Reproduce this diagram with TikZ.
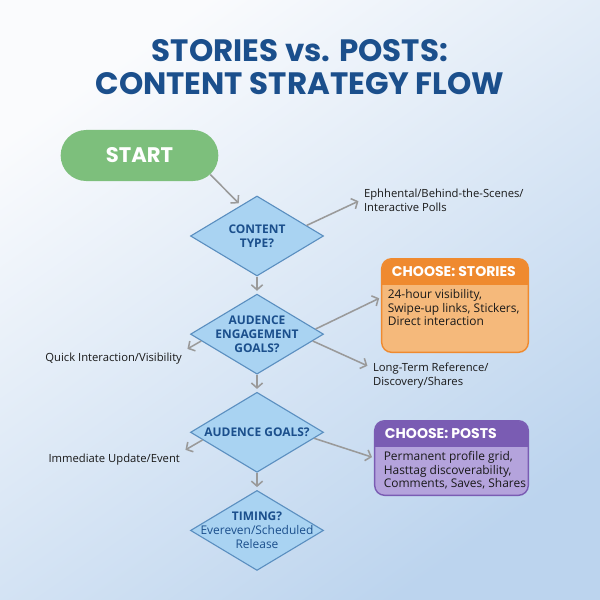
\documentclass[tikz,border=0pt]{standalone}
\usepackage{fontspec}
\setmainfont{Open Sans}
\newfontfamily\headfont{Poppins}
\usetikzlibrary{shapes.geometric, shapes.misc, positioning, arrows.meta, calc}

\definecolor{titleblue}{HTML}{1B4F8C}
\definecolor{startgreen}{HTML}{7DBF7C}
\definecolor{dfill}{HTML}{A9D3F2}
\definecolor{dedge}{HTML}{5B8FC0}
\definecolor{flowgray}{HTML}{9A9A9A}
\definecolor{storyhead}{HTML}{EF8A2F}
\definecolor{storybody}{HTML}{F5B97B}
\definecolor{posthead}{HTML}{7A5CB3}
\definecolor{postbody}{HTML}{B4A3DC}
\definecolor{bgA}{HTML}{FAFBFD}
\definecolor{bgD}{HTML}{BCD4EE}

\begin{document}
\begin{tikzpicture}[x=0.025cm, y=-0.025cm,
    node distance=0.425cm,
    decision/.style={diamond, draw=dedge, fill=dfill, line width=0.8pt,
      minimum width=3.325cm, minimum height=2cm, inner sep=0pt},
    dtext/.style={text=titleblue, align=center, inner sep=0pt,
      font=\fontsize{8.5}{10}\selectfont\bfseries},
    startbox/.style={rounded rectangle, fill=startgreen, text=white,
      minimum width=4.175cm, minimum height=1.275cm,
      font=\headfont\bfseries\fontsize{15}{18}\selectfont},
    choicebox/.style={rectangle, rounded corners=7pt, inner sep=0pt},
    headtext/.style={text=white, inner sep=0pt,
      font=\headfont\bfseries\fontsize{10}{12}\selectfont},
    bodytext/.style={text=black!90, align=left, inner sep=2pt,
      font=\fontsize{8.5}{9.5}\selectfont},
    note/.style={text=black!90, align=left, inner sep=2pt,
      font=\fontsize{8}{10}\selectfont},
    flow/.style={draw=flowgray, line width=1.1pt,
      -{Straight Barb[length=3.5pt,width=8pt]}, shorten >=2pt}
  ]
  \useasboundingbox (0,0) rectangle (600,600);
  \shade[shading=axis, top color=bgA, bottom color=bgD, shading angle=35]
    (0,0) rectangle (600,600);

  % title
  \node[text=titleblue, align=center, font=\headfont\bfseries\fontsize{22}{23.5}\selectfont]
    (title) at (300,67) {STORIES vs. POSTS:\\CONTENT STRATEGY FLOW};

  % main column
  \node[startbox] (start) at (139.5,155.5) {START};
  \node[decision, label={[dtext]center:CONTENT\\TYPE?}] (type) at (257,236) {};
  \node[decision, label={[dtext]center:AUDENCE\\ENGAGEMENT\\GOALS?}, below=of type] (engage) {};
  \node[decision, label={[dtext]center:AUDENCE GOALS?}, below=of engage] (goals) {};
  \node[decision, label={[dtext]center:TIMING?\\{\mdseries\fontsize{8.5}{10}\selectfont Evereven/Scheduled}\\{\mdseries Release}}, below=of goals] (timing) {};

  % choice boxes
  \node[choicebox, fill=storyhead, minimum width=3.65cm, minimum height=2.325cm] (stories) at (455,305.5) {};
  \begin{scope}
    \clip[rounded corners=7pt] (stories.north west) rectangle (stories.south east);
    \fill[storybody] ($(stories.north west)+(0,26)$) rectangle (stories.south east);
  \end{scope}
  \draw[storyhead, line width=1pt, rounded corners=7pt] (stories.north west) rectangle (stories.south east);
  \node[headtext, anchor=west] (storieshead) at ($(stories.north west)+(10,13)$) {CHOOSE: STORIES};
  \node[bodytext, anchor=north west] (storiestext) at ($(stories.north west)+(3,28)$)
    {24-hour visibility,\\Swipe-up links, Stickers,\\Direct interaction};

  \node[choicebox, fill=posthead, minimum width=3.825cm, minimum height=1.85cm] (posts) at (451.5,458) {};
  \begin{scope}
    \clip[rounded corners=7pt] (posts.north west) rectangle (posts.south east);
    \fill[postbody] ($(posts.north west)+(0,26)$) rectangle (posts.south east);
  \end{scope}
  \draw[posthead, line width=1pt, rounded corners=7pt] (posts.north west) rectangle (posts.south east);
  \node[headtext, anchor=west] (postshead) at ($(posts.north west)+(10,13)$) {CHOOSE: POSTS};
  \node[bodytext, anchor=north west] (poststext) at ($(posts.north west)+(6,28)$)
    {Permanent profile grid,\\Hasttag discoverability,\\Comments, Saves, Shares};

  % branch labels
  \node[note, anchor=west] (ephemeral) at (361,200) {Ephhental/Behind-the-Scenes/\\Interactive Polls};
  \node[note, anchor=east] (quick) at (185,359) {Quick Interaction/Visibility};
  \node[note, anchor=west] (longterm) at (370,375.5) {Long-Term Reference/\\Discovery/Shares};
  \node[note, anchor=east] (immediate) at (183,460) {Immediate Update/Event};

  % connectors
  \draw[flow] (start.-15) -- (type.118);
  \draw[flow] (type.12) -- (ephemeral.west);
  \draw[flow] (type.south) -- (engage.north);
  \draw[flow] (engage.5) -- ($(stories.north west)!0.41!(stories.south west)$);
  \draw[flow] (engage.187) -- (quick.north east);
  \draw[flow] (engage.-7) -- (longterm.172);
  \draw[flow] (engage.south) -- (goals.north);
  \draw[flow] (goals.188) -- (immediate.north east);
  \draw[flow] (goals.-6) -- (posts.west);
  \draw[flow] (goals.south) -- (timing.north);
\end{tikzpicture}
\end{document}
